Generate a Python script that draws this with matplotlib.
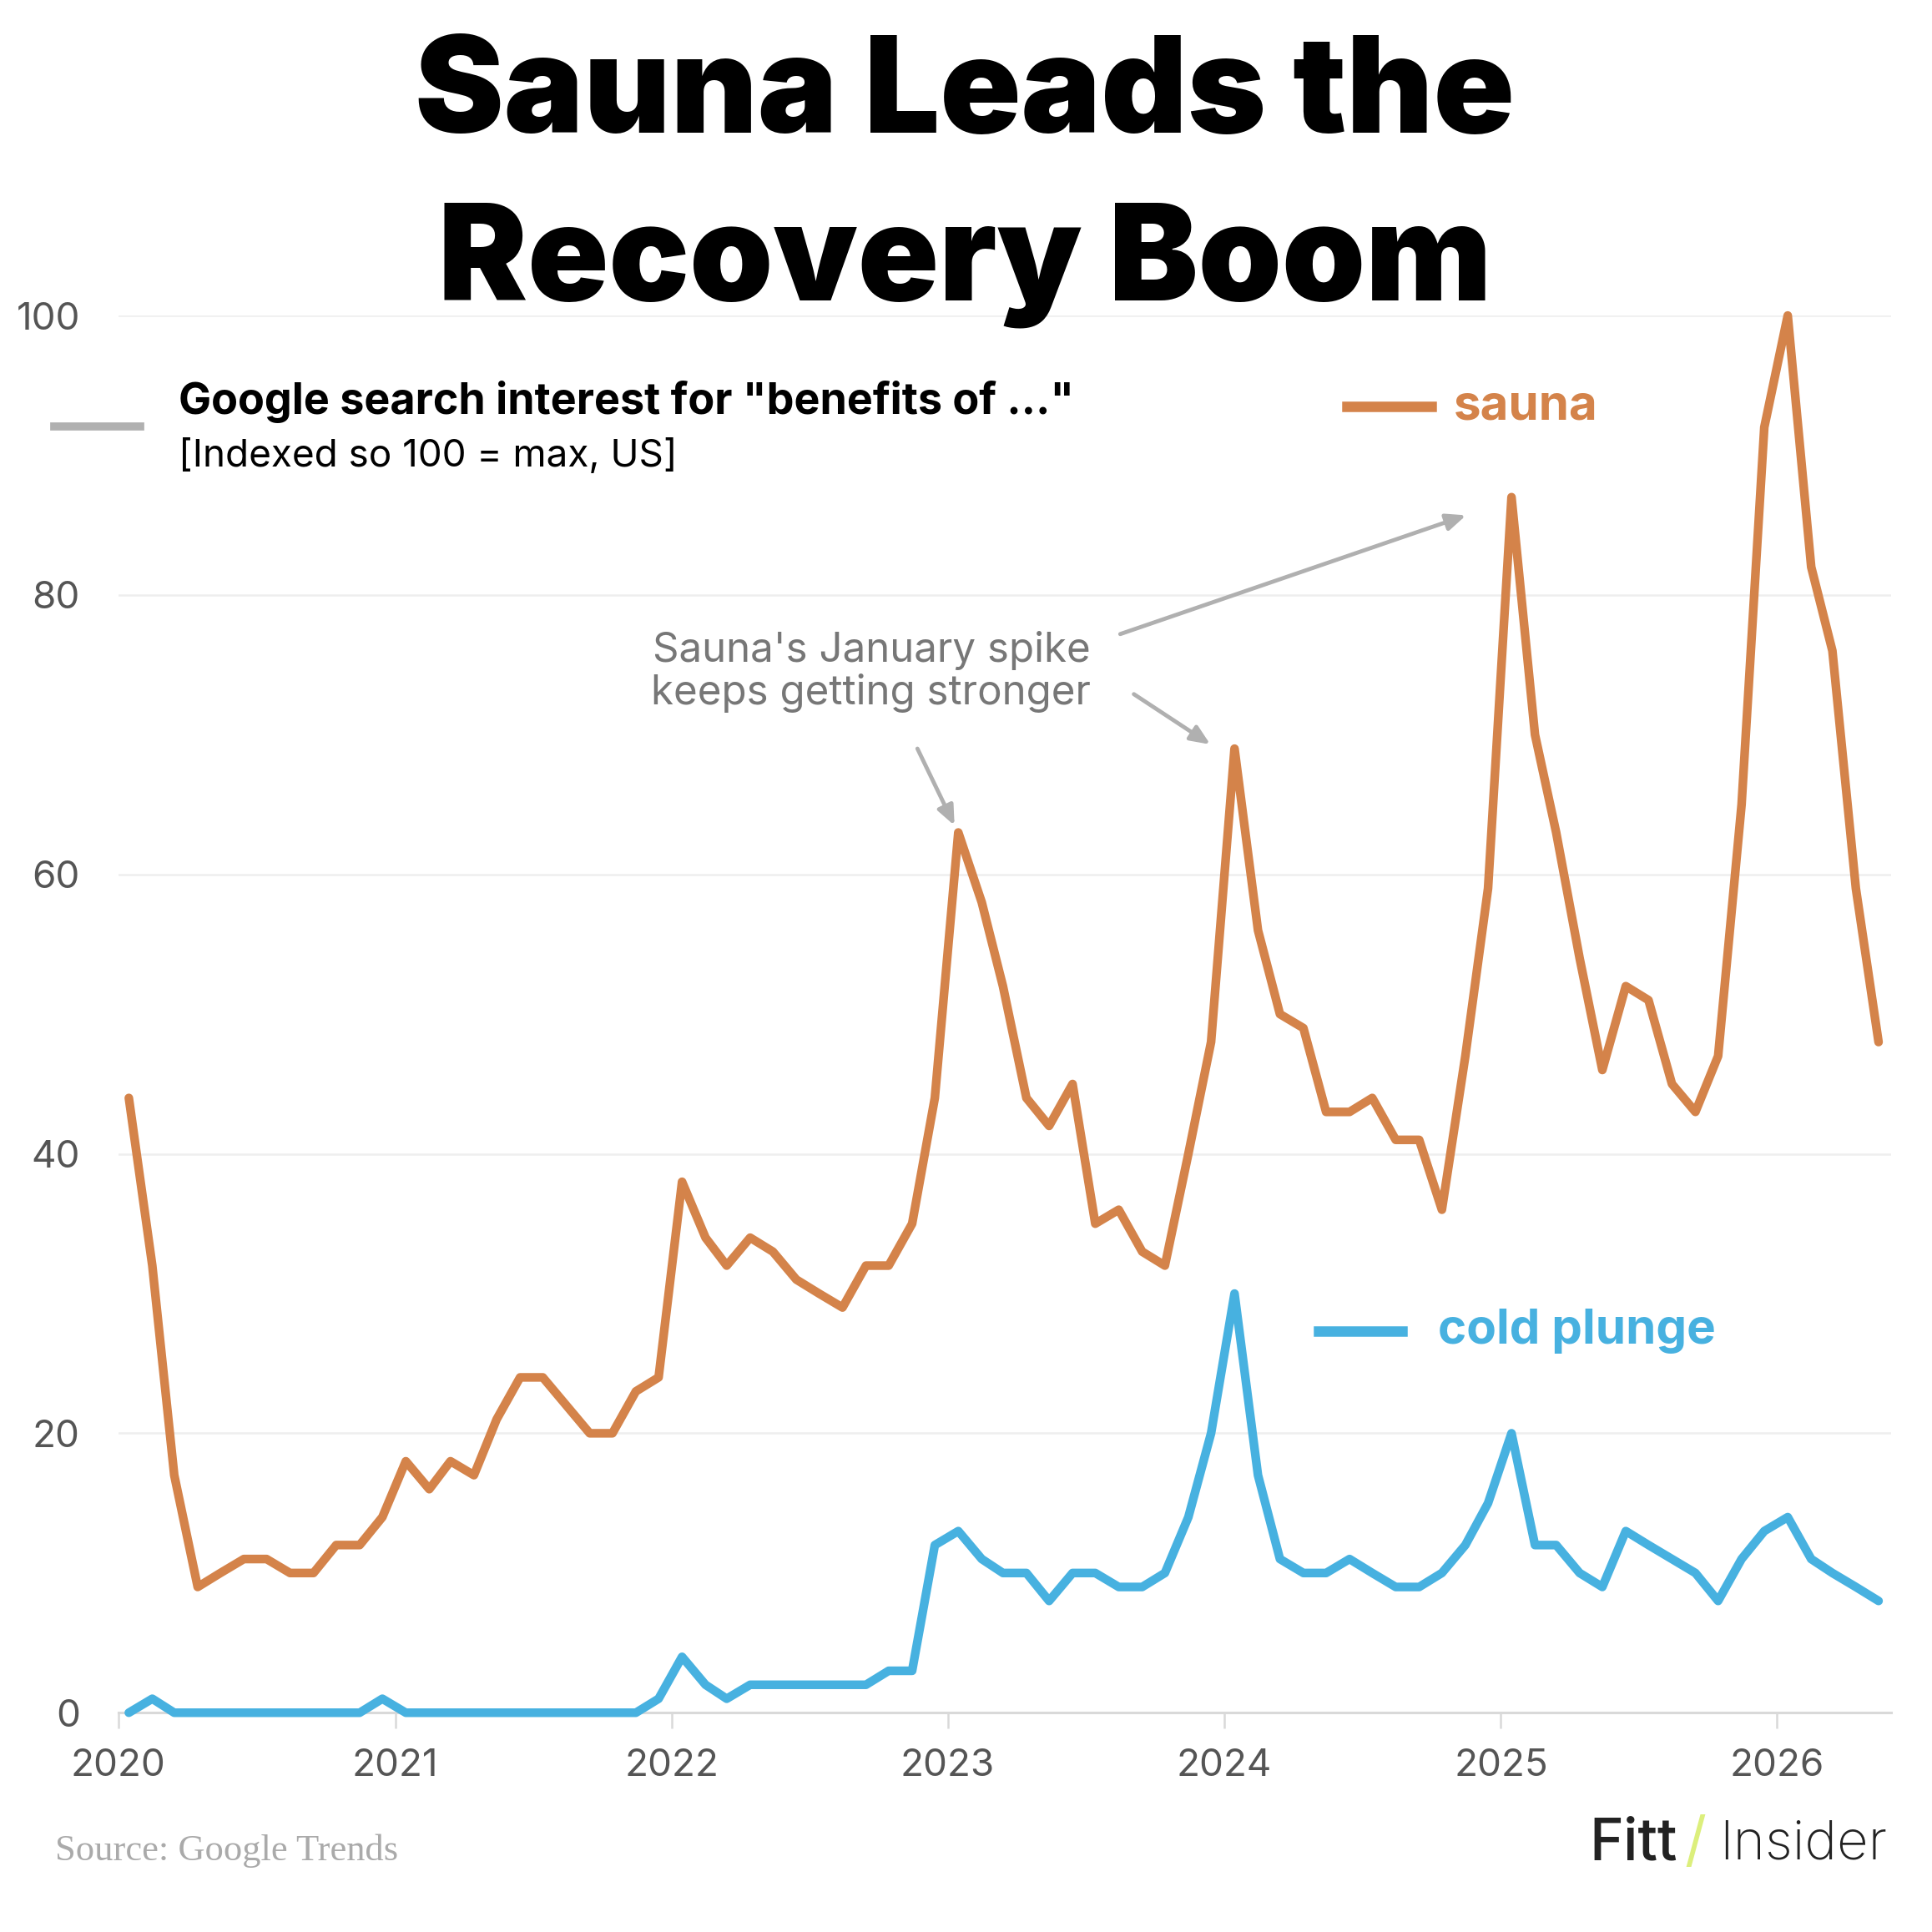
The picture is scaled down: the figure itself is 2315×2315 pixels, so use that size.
import matplotlib
matplotlib.use("Agg")
import matplotlib.pyplot as plt
import pandas as pd

# monthly Google Trends index, Jan 2020 - May 2026
months = pd.date_range("2020-01-01", "2026-05-01", freq="MS") + pd.Timedelta(days=14)

sauna = [44, 32, 17, 9, 10, 11, 11, 10, 10, 12, 12, 14,
         18, 16, 18, 17, 21, 24, 24, 22, 20, 20, 23, 24,
         38, 34, 32, 34, 33, 31, 30, 29, 32, 32, 35, 44,
         63, 58, 52, 44, 42, 45, 35, 36, 33, 32, 40, 48,
         69, 56, 50, 49, 43, 43, 44, 41, 41, 36, 47, 59,
         87, 70, 63, 54, 46, 52, 51, 45, 43, 47, 65, 92,
         100, 82, 76, 59, 48]

cold_plunge = [0, 1, 0, 0, 0, 0, 0, 0, 0, 0, 0, 1,
               0, 0, 0, 0, 0, 0, 0, 0, 0, 0, 0, 1,
               4, 2, 1, 2, 2, 2, 2, 2, 2, 3, 3, 12,
               13, 11, 10, 10, 8, 10, 10, 9, 9, 10, 14, 20,
               30, 17, 11, 10, 10, 11, 10, 9, 9, 10, 12, 15,
               20, 12, 12, 10, 9, 13, 12, 11, 10, 8, 11, 13,
               14, 11, 10, 9, 8]

year_ticks = pd.date_range("2020-01-01", "2026-01-01", freq="YS")
year_labels = [str(d.year) for d in year_ticks]
y_ticks = [0, 20, 40, 60, 80, 100]

SAUNA_C = "#d4834a"
COLD_C = "#47b1e0"
GRAY = "#b0b0b0"

plt.rcParams["font.family"] = ["Inter", "DejaVu Sans"]

fig = plt.figure(figsize=(23.15, 23.15), dpi=100)
ax = fig.add_axes([0.0612, 0.1135, 0.979 - 0.0612, 0.8367 - 0.1135])

ax.plot(months, sauna, color=SAUNA_C, lw=7.5, solid_joinstyle="round",
        solid_capstyle="round", clip_on=False, zorder=3)
ax.plot(months, cold_plunge, color=COLD_C, lw=7.5, solid_joinstyle="round",
        solid_capstyle="round", clip_on=False, zorder=3)

ax.set_ylim(0, 100)
ax.set_xlim(pd.Timestamp("2020-01-01"), pd.Timestamp("2026-06-01"))
ax.set_yticks(y_ticks)
ax.set_xticks(year_ticks)
ax.set_xticklabels(year_labels)
ax.grid(axis="y", color="#eeeeee", lw=1.8, zorder=0)
ax.set_axisbelow(True)
for s in ["top", "right", "left"]:
    ax.spines[s].set_visible(False)
ax.spines["bottom"].set_color("#d9d9d9")
ax.spines["bottom"].set_linewidth(2.2)
ax.tick_params(axis="y", length=0, pad=33, labelsize=33, labelcolor="#555555")
ax.tick_params(axis="x", length=14, width=1.8, color="#d9d9d9", pad=17,
               labelsize=33, labelcolor="#555555")

# title
fig.text(0.4994, 0.9495, "Sauna Leads the", ha="center", va="center",
         fontsize=115.5, fontweight="black", color="black")
fig.text(0.4994, 0.8628, "Recovery Boom", ha="center", va="center",
         fontsize=115.5, fontweight="black", color="black")

# header key
fig.add_artist(plt.Line2D([0.0281, 0.0727], [0.7793, 0.7793], color=GRAY, lw=7))
fig.text(0.0925, 0.7921, 'Google search interest for "benefits of …"', ha="left",
         va="center", fontsize=37.5, fontweight="bold", color="black")
fig.text(0.0925, 0.764, "[Indexed so 100 = max, US]", ha="left", va="center",
         fontsize=33, color="black")

# inline legend
fig.add_artist(plt.Line2D([0.697, 0.741], [0.7895, 0.7895], color=SAUNA_C, lw=9))
fig.text(0.7526, 0.7895, "sauna", ha="left", va="center", fontsize=42,
         fontweight="bold", color=SAUNA_C)
fig.add_artist(plt.Line2D([0.6824, 0.7258], [0.3112, 0.3112], color=COLD_C, lw=9))
fig.text(0.7443, 0.3112, "cold plunge", ha="left", va="center", fontsize=42,
         fontweight="bold", color=COLD_C)

# annotation
ax.text(pd.Timestamp("2022-09-22"), 74.5, "Sauna's January spike\nkeeps getting stronger",
        ha="center", va="center", fontsize=35.5, color="#777777", linespacing=1.1)
arrow = dict(arrowstyle="-|>,head_length=1.4,head_width=0.6", color=GRAY, lw=3.5,
             shrinkA=0, shrinkB=0)
ax.annotate("", xy=(pd.Timestamp("2023-01-10"), 63.5),
            xytext=(pd.Timestamp("2022-11-22"), 69.0), arrowprops=arrow)
ax.annotate("", xy=(pd.Timestamp("2023-12-14"), 69.3),
            xytext=(pd.Timestamp("2023-09-04"), 72.9), arrowprops=arrow)
ax.annotate("", xy=(pd.Timestamp("2024-11-16"), 85.7),
            xytext=(pd.Timestamp("2023-08-17"), 77.2), arrowprops=arrow)

# footer
fig.text(0.0287, 0.0421, "Source: Google Trends", ha="left", va="center",
         fontsize=32, color="#aaaaaa", family=["Liberation Serif", "DejaVu Serif"])
fig.text(0.8227, 0.0453, "Fitt", ha="left", va="center", fontsize=50,
         fontweight="medium", color="#222222")
fig.text(0.8776, 0.0453, "/", ha="center", va="center", fontsize=52,
         fontweight="regular", color="#dcef7c")
fig.text(0.8897, 0.0453, "Insider", ha="left", va="center", fontsize=47,
         fontweight="light", color="#222222")

fig.savefig("out.png", dpi=100, facecolor="white")
